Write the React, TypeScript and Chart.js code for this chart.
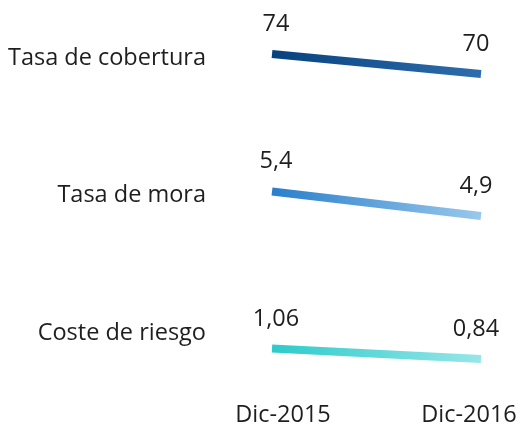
import React, { useEffect, useRef } from "react";
import { Chart, registerables } from "chart.js";

Chart.register(...registerables);

const categories = ["Dic-2015", "Dic-2016"];
const metrics = ["Tasa de cobertura", "Tasa de mora", "Coste de riesgo"];
const coberturaValues = [74, 70];
const moraValues = [5.4, 4.9];
const costeValues = [1.06, 0.84];

const FONT = "'Open Sans'";
const FSIZE = 23.5;
const TEXT = "#1e1e1e";

const fmt = (v: number) => String(v).replace(".", ",");

const gradientFor = (from: string, to: string) => (ctx: any) => {
  const chart = ctx.chart;
  const xs = chart.scales && chart.scales.xd;
  if (!xs || !isFinite(xs.getPixelForValue(0))) return from;
  const g = chart.ctx.createLinearGradient(xs.getPixelForValue(0), 0, xs.getPixelForValue(1), 0);
  g.addColorStop(0, from);
  g.addColorStop(1, to);
  return g;
};

const valueLabels = {
  id: "valueLabels",
  afterDatasetsDraw(chart: any) {
    const c = chart.ctx;
    c.save();
    c.font = `${FSIZE}px ${FONT}`;
    c.fillStyle = TEXT;
    c.textAlign = "center";
    c.textBaseline = "alphabetic";
    chart.data.datasets.forEach((ds: any, di: number) => {
      const meta = chart.getDatasetMeta(di);
      meta.data.forEach((pt: any, i: number) => {
        const dx = i === 0 ? 4 : -5;
        c.fillText(fmt(ds.data[i].y), pt.x + dx, pt.y - 23);
      });
    });
    c.restore();
  },
};

export default function App() {
  const ref = useRef<HTMLCanvasElement | null>(null);
  useEffect(() => {
    if (!ref.current) return;
    const toPts = (arr: number[]) => arr.map((v, i) => ({ x: i, y: v }));
    const common = {
      borderWidth: 8,
      borderCapStyle: "butt" as const,
      pointRadius: 0,
      pointHoverRadius: 0,
      clip: false as any,
      xAxisID: "xd",
      fill: false,
      tension: 0,
    };
    const chart = new Chart(ref.current, {
      type: "line",
      data: {
        datasets: [
          { ...common, label: metrics[0], data: toPts(coberturaValues), yAxisID: "yA", borderColor: gradientFor("#07427f", "#2e6dad") },
          { ...common, label: metrics[1], data: toPts(moraValues), yAxisID: "yB", borderColor: gradientFor("#2a7fcb", "#98c8ec") },
          { ...common, label: metrics[2], data: toPts(costeValues), yAxisID: "yC", borderColor: gradientFor("#2dcbcb", "#97e6e8") },
        ],
      },
      options: {
        animation: false,
        responsive: true,
        maintainAspectRatio: false,
        layout: { padding: { top: 58, right: 51, left: 0, bottom: 0 } },
        plugins: { legend: { display: false }, tooltip: { enabled: false } },
        events: [],
        scales: {
          x: {
            type: "category",
            labels: categories,
            offset: false,
            position: "bottom",
            grid: { display: false, drawTicks: false },
            border: { display: false },
            ticks: { color: TEXT, font: { family: FONT, size: FSIZE }, padding: 68, maxRotation: 0, autoSkip: false },
            afterFit: (s: any) => { s.height = 97; s.paddingLeft = 0; s.paddingRight = 0; },
          },
          xd: { type: "linear", display: false, min: 0.0526, max: 0.9426 },
          y: {
            type: "category",
            labels: metrics,
            offset: false,
            position: "left",
            grid: { display: false, drawTicks: false },
            border: { display: false },
            ticks: { color: TEXT, font: { family: FONT, size: FSIZE }, padding: 77, autoSkip: false },
            afterFit: (s: any) => { s.width = 283; s.paddingTop = 0; s.paddingBottom = 0; },
          },
          yA: { type: "linear", display: false, min: 18.2, max: 73.2 },
          yB: { type: "linear", display: false, min: 2.512, max: 8.124 },
          yC: { type: "linear", display: false, min: 1.385, max: 7.15 },
        },
      },
      plugins: [valueLabels],
    });
    return () => chart.destroy();
  }, []);
  return (
    <div style={{ position: "fixed", left: 0, top: 0, width: 520, height: 430 }}>
      <canvas ref={ref} />
    </div>
  );
}
